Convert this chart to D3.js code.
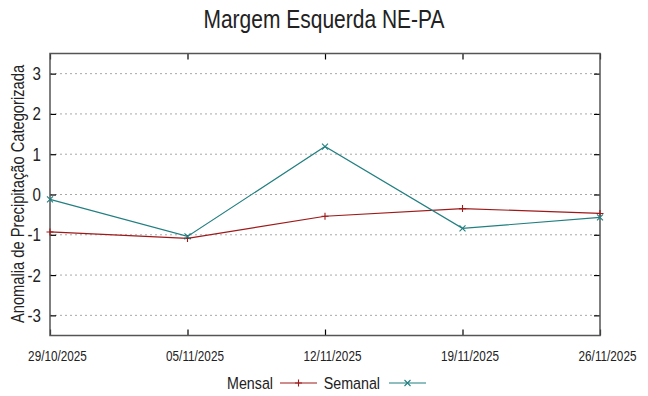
<!DOCTYPE html>
<html>
<head>
<meta charset="utf-8">
<script src="https://cdn.jsdelivr.net/npm/d3@7"></script>
<style>
  body { margin: 0; background: #fff; }
  svg text { font-family: "Liberation Sans", Arial, sans-serif; fill: #222; }
</style>
</head>
<body>
<svg id="chart" width="648" height="396"></svg>
<script>
const dates   = ['29/10/2025', '05/11/2025', '12/11/2025', '19/11/2025', '26/11/2025'];
const mensal  = [-0.93, -1.09, -0.54, -0.35, -0.47];
const semanal = [-0.12, -1.04, 1.19, -0.84, -0.57];
const yTicks  = [-3, -2, -1, 0, 1, 2, 3];

const plotL = 50, plotR = 600, plotT = 53.5, plotB = 335.5;
const SQUEEZE = 0.84;   // the reference uses a narrow face

const parse = d3.timeParse('%d/%m/%Y');
const fmt   = d3.timeFormat('%d/%m/%Y');
const xDates = dates.map(parse);

const x = d3.scaleTime().domain(d3.extent(xDates)).range([plotL, plotR]);
const y = d3.scaleLinear().domain([-3.5, 3.5]).range([plotB, plotT]);

const svg = d3.select('#chart');

// narrow text: real text squeezed horizontally
function narrow(parent, px, py, size, anchor, str, rot) {
  const g = parent.append('g')
    .attr('transform', `translate(${px},${py})` + (rot ? ` rotate(${rot})` : '') + ` scale(${SQUEEZE},1)`);
  return g.append('text')
    .attr('text-anchor', anchor)
    .style('font-size', size + 'px')
    .text(str);
}

// title
narrow(svg, 324, 28, 25, 'middle', 'Margem Esquerda NE-PA');

// grid
svg.append('g').selectAll('line').data(yTicks).join('line')
  .attr('x1', plotL).attr('x2', plotR)
  .attr('y1', d => y(d)).attr('y2', d => y(d))
  .attr('stroke', '#a8a8a8').attr('stroke-width', 1)
  .attr('stroke-dasharray', '2,3');

// axes (gnuplot-style inward ticks, mirrored)
const yL = svg.append('g').attr('transform', `translate(${plotL},0)`)
  .call(d3.axisRight(y).tickValues(yTicks).tickSize(6).tickFormat(''));
const yR = svg.append('g').attr('transform', `translate(${plotR},0)`)
  .call(d3.axisLeft(y).tickValues(yTicks).tickSize(6).tickFormat(''));
const xB = svg.append('g').attr('transform', `translate(0,${plotB})`)
  .call(d3.axisTop(x).tickValues(xDates).tickSize(6).tickFormat(''));
const xT = svg.append('g').attr('transform', `translate(0,${plotT})`)
  .call(d3.axisBottom(x).tickValues(xDates).tickSize(6).tickFormat(''));
[yL, yR, xB, xT].forEach(g => {
  g.select('.domain').remove();
  g.selectAll('.tick line').attr('stroke', '#000').attr('stroke-width', 1.2);
});

// y tick labels
const yLab = svg.append('g');
yTicks.forEach(d => narrow(yLab, plotL - 9, y(d) + 6.5, 18, 'end', d));

// x tick labels
const xLab = svg.append('g');
xDates.forEach(d => narrow(xLab, x(d) + 7.5, 361, 14, 'middle', fmt(d)));

// y axis label
narrow(svg, 24, 194, 17.5, 'middle', 'Anomalia de Precipitação Categorizada', -90);

// frame
svg.append('rect')
  .attr('x', plotL).attr('y', plotT)
  .attr('width', plotR - plotL).attr('height', plotB - plotT)
  .attr('fill', 'none').attr('stroke', '#555').attr('stroke-width', 1.5);

const RED = '#9e1a1a', TEAL = '#217f80';

function plus(g, cx, cy, s, c) {
  g.append('path').attr('d', `M${cx - s},${cy}H${cx + s}M${cx},${cy - s}V${cy + s}`)
    .attr('stroke', c).attr('stroke-width', 1.1).attr('fill', 'none');
}
function cross(g, cx, cy, s, c) {
  g.append('path').attr('d', `M${cx - s},${cy - s}L${cx + s},${cy + s}M${cx - s},${cy + s}L${cx + s},${cy - s}`)
    .attr('stroke', c).attr('stroke-width', 1.1).attr('fill', 'none');
}

const line = d3.line().x((d, i) => x(xDates[i])).y(d => y(d));

const series = [
  { name: 'Mensal',  vals: mensal,  color: RED,  mark: plus,  size: 3.5 },
  { name: 'Semanal', vals: semanal, color: TEAL, mark: cross, size: 3 },
];

const plot = svg.append('g');
series.forEach(s => {
  plot.append('path').datum(s.vals)
    .attr('d', line)
    .attr('fill', 'none').attr('stroke', s.color).attr('stroke-width', 1.2);
  const mg = plot.append('g');
  s.vals.forEach((v, i) => s.mark(mg, x(xDates[i]), y(v), s.size, s.color));
});

// legend
const legendY = 383;
const legendItems = [
  { textEnd: 273, lineX: [280, 317] },
  { textEnd: 380, lineX: [389, 426] },
];
series.forEach((s, i) => {
  const L = legendItems[i];
  narrow(svg, L.textEnd, legendY + 6, 17, 'end', s.name);
  svg.append('line')
    .attr('x1', L.lineX[0]).attr('x2', L.lineX[1])
    .attr('y1', legendY).attr('y2', legendY)
    .attr('stroke', s.color).attr('stroke-width', 1.2);
  s.mark(svg, (L.lineX[0] + L.lineX[1]) / 2, legendY, s.size, s.color);
});
</script>
</body>
</html>
